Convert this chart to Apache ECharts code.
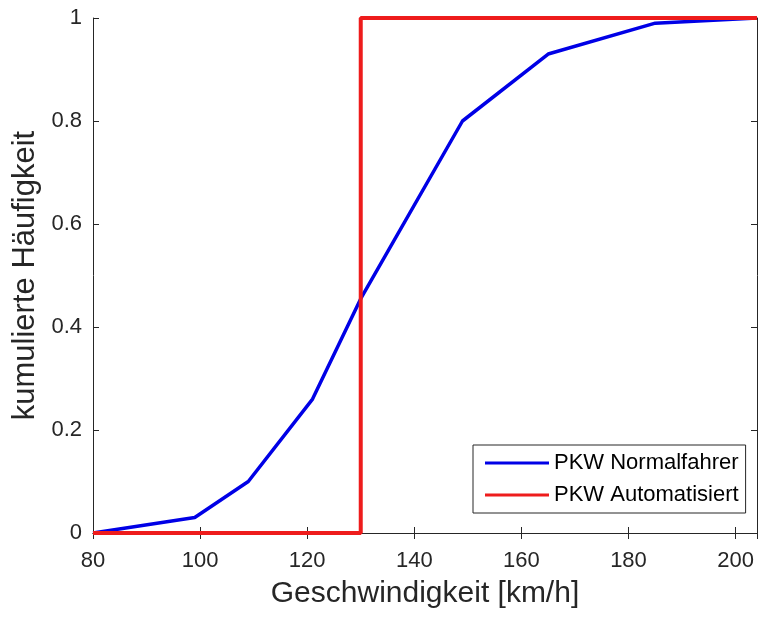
<!DOCTYPE html>
<html>
<head>
<meta charset="utf-8">
<script src="https://cdn.jsdelivr.net/npm/echarts@6/dist/echarts.min.js"></script>
<style>
  html, body { margin: 0; padding: 0; background: #fff; }
  #chart { width: 758px; height: 617px; }
</style>
</head>
<body>
<div id="chart"></div>
<script>
// Geschwindigkeit [km/h] vs. kumulierte Häufigkeit
const normalX = [80, 99, 109, 121, 130, 149, 165, 185, 204]
const normalY = [0, 0.03, 0.1, 0.26, 0.455, 0.8, 0.93, 0.99, 1]
const autoX = [80, 130, 130, 204]
const autoY = [0, 0, 1, 1]
const xTicks = [80, 100, 120, 140, 160, 180, 200]
const yTicks = [0, 0.2, 0.4, 0.6, 0.8, 1]

const font = 'Liberation Sans, Arial, sans-serif'
const axisColor = '#262626'

const myChart = echarts.init(document.getElementById('chart'))

const baseAxisLine = { show: true, lineStyle: { color: axisColor, width: 1 } }
const baseTick = { show: true, inside: true, length: 6, lineStyle: { color: axisColor } }

const option = {
  animation: false,
  grid: { left: 93, right: 1, top: 18, bottom: 84 },
  legend: {
    orient: 'vertical',
    left: 473,
    top: 445,
    padding: [7, 7, 7, 12],
    borderColor: axisColor,
    borderWidth: 1,
    backgroundColor: '#fff',
    itemWidth: 64,
    itemHeight: 3,
    itemGap: 10,
    icon: 'rect',
    textStyle: { fontFamily: font, fontSize: 22, color: '#000' },
    data: ['PKW Normalfahrer', 'PKW Automatisiert']
  },
  xAxis: [
    {
      type: 'value',
      min: 80,
      max: 204,
      interval: 20,
      name: 'Geschwindigkeit [km/h]',
      nameLocation: 'middle',
      nameGap: 46,
      nameTextStyle: { fontFamily: font, fontSize: 30, color: axisColor },
      axisLine: baseAxisLine,
      axisTick: baseTick,
      axisLabel: {
        fontFamily: font, fontSize: 22, color: axisColor, margin: 17,
        customValues: xTicks
      },
      splitLine: { show: false }
    },
    {
      type: 'value',
      position: 'top',
      min: 80,
      max: 204,
      interval: 20,
      axisLine: baseAxisLine,
      axisTick: baseTick,
      axisLabel: { show: false },
      splitLine: { show: false }
    }
  ],
  yAxis: [
    {
      type: 'value',
      min: 0,
      max: 1,
      interval: 0.2,
      name: 'kumulierte Häufigkeit',
      nameLocation: 'middle',
      nameGap: 47,
      nameTextStyle: { fontFamily: font, fontSize: 31, color: axisColor },
      axisLine: baseAxisLine,
      axisTick: baseTick,
      axisLabel: {
        fontFamily: font, fontSize: 22, color: axisColor, margin: 11,
        customValues: yTicks,
        formatter: v => String(Math.round(v * 10) / 10)
      },
      splitLine: { show: false }
    },
    {
      type: 'value',
      position: 'right',
      min: 0,
      max: 1,
      interval: 0.2,
      axisLine: baseAxisLine,
      axisTick: baseTick,
      axisLabel: { show: false },
      splitLine: { show: false }
    }
  ],
  series: [
    {
      name: 'PKW Normalfahrer',
      type: 'line',
      data: normalX.map((x, i) => [x, normalY[i]]),
      showSymbol: false,
      symbol: 'none',
      lineStyle: { color: '#0000e6', width: 3.5 },
      itemStyle: { color: '#0000e6' },
      z: 3
    },
    {
      name: 'PKW Automatisiert',
      type: 'line',
      data: autoX.map((x, i) => [x, autoY[i]]),
      showSymbol: false,
      symbol: 'none',
      clip: false,
      lineStyle: { color: '#ee1c1c', width: 4 },
      itemStyle: { color: '#ee1c1c' },
      z: 4
    }
  ]
}
myChart.setOption(option)
</script>
</body>
</html>
